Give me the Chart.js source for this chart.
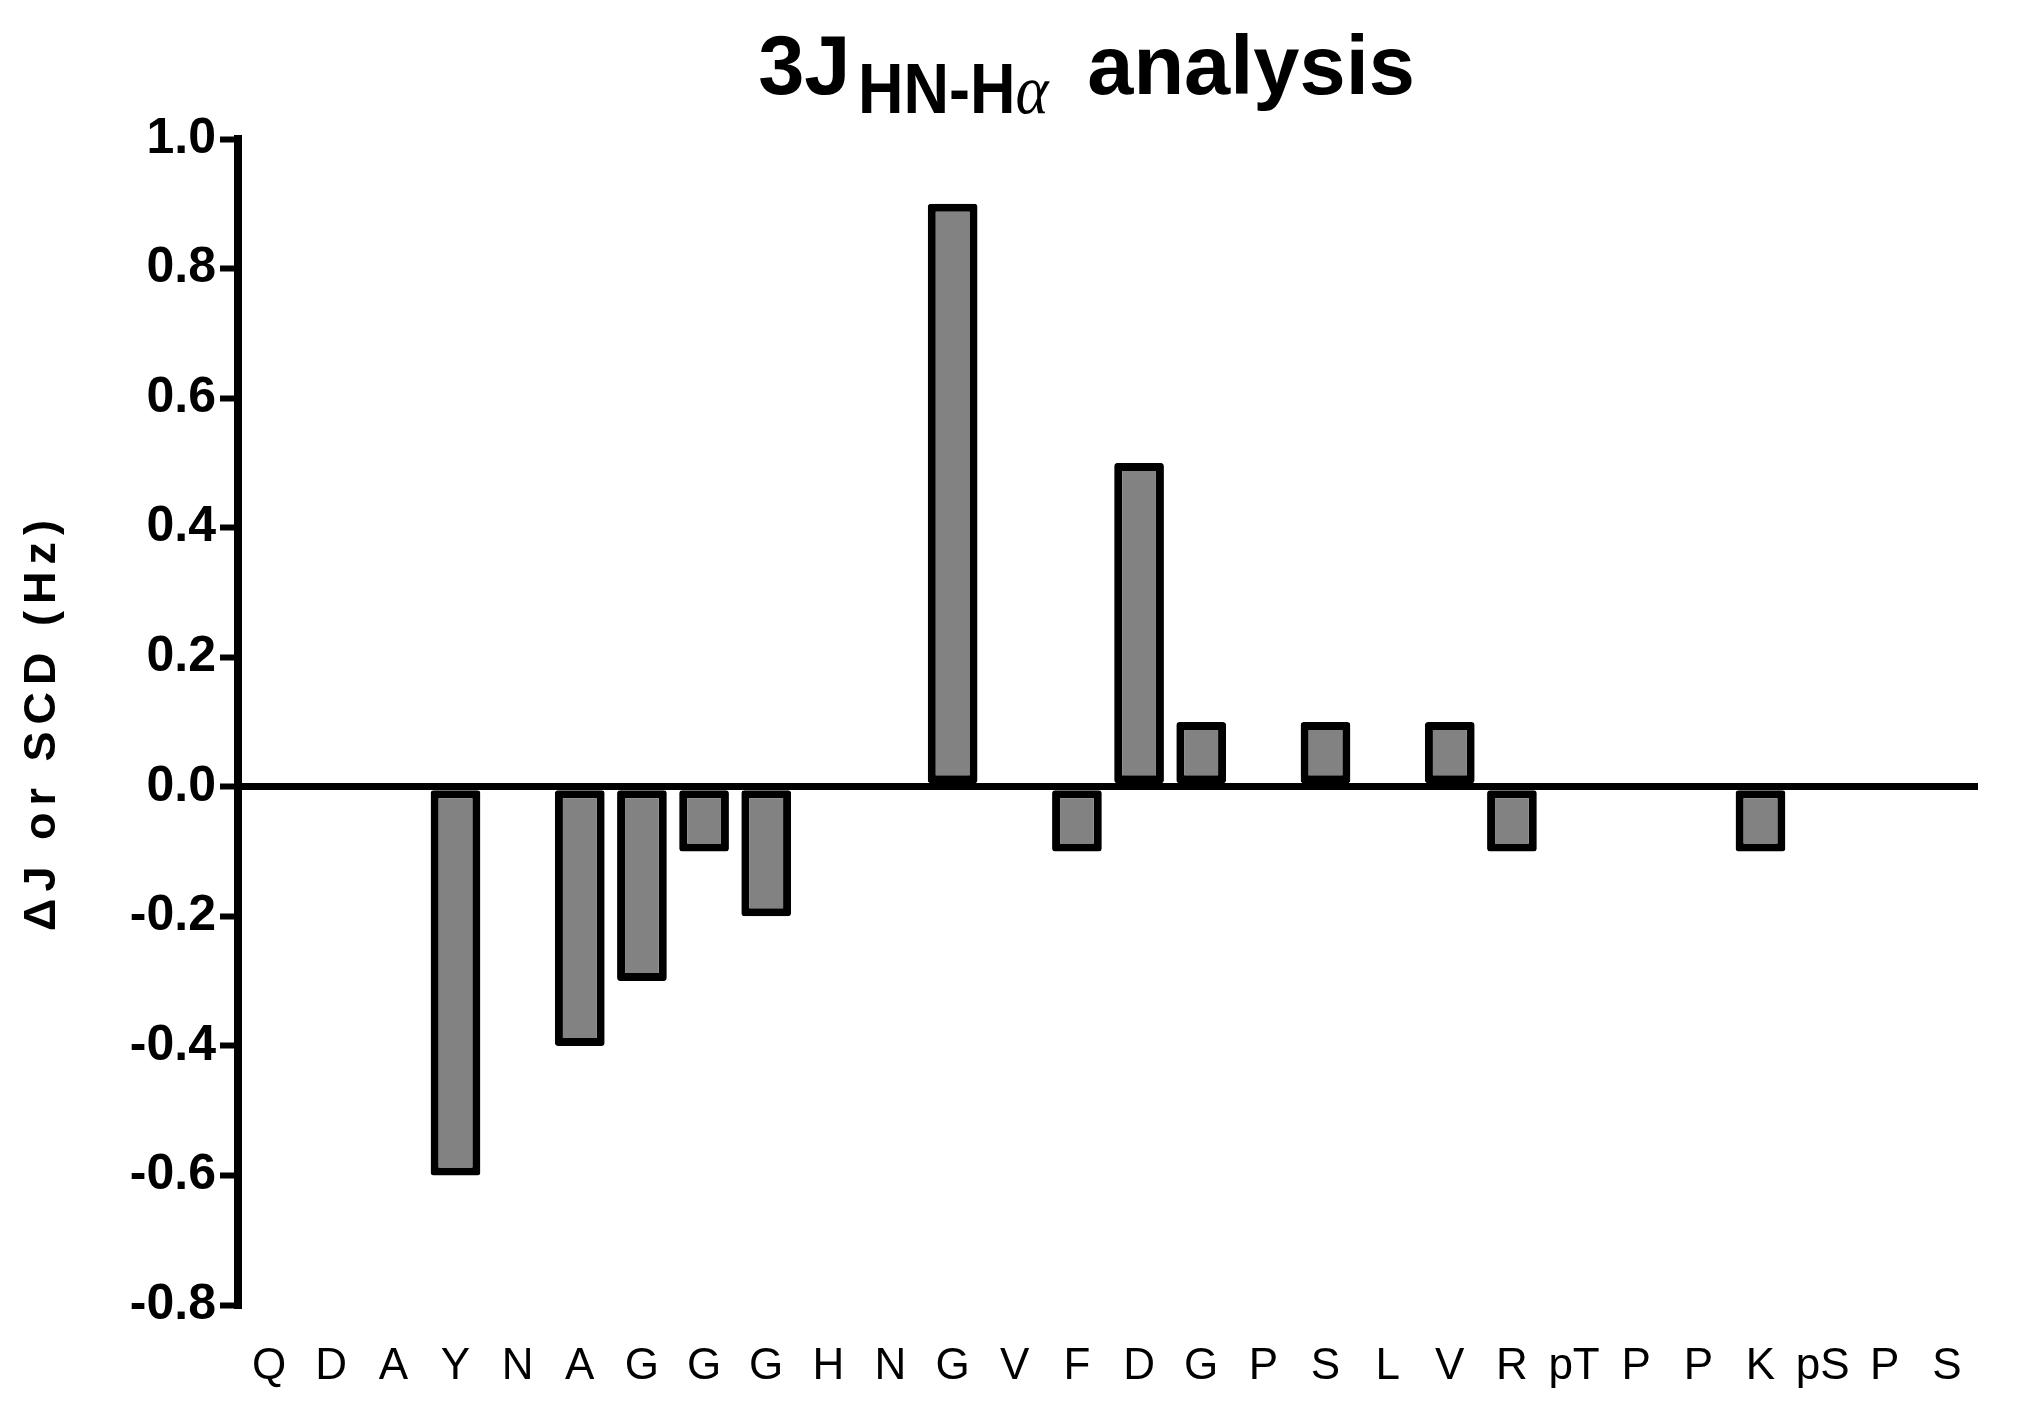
<!DOCTYPE html>
<html>
<head>
<meta charset="utf-8">
<script src="https://cdn.jsdelivr.net/npm/chart.js@4.4.1/dist/chart.umd.min.js"></script>
<style>
    body { margin: 0; background: #fff; }
    #wrap { position: relative; width: 2043px; height: 1409px; }
    #title {
        position: absolute; left: 0; top: 24px; width: 2043px; box-sizing: border-box;
        padding-left: 130px; text-align: center;
        font-family: "Liberation Sans", Arial, sans-serif; font-weight: bold; font-size: 83px; line-height: 1;
    }
    #title sub {
        display: inline-block; margin-left: 8px; margin-right: -6px;
        font-size: 70px; vertical-align: -19px; line-height: 1;
        transform: scaleX(0.9); transform-origin: left center;
    }
    #title .alpha { font-family: "Liberation Serif", serif; font-style: italic; font-weight: normal; }
</style>
</head>
<body>
<div id="wrap">
    <canvas id="jChart" width="2043" height="1409"></canvas>
    <div id="title">3J<sub>HN-H<span class="alpha">α</span></sub> analysis</div>
</div>
<script>
// residues along the sequence
const residues = ['Q', 'D', 'A', 'Y', 'N', 'A', 'G', 'G', 'G', 'H', 'N', 'G', 'V', 'F',
    'D', 'G', 'P', 'S', 'L', 'V', 'R', 'pT', 'P', 'P', 'K', 'pS', 'P', 'S'];
// delta J per residue (Hz)
const deltaJ = [0, 0, 0, -0.6, 0, -0.4, -0.3, -0.1, -0.2, 0, 0, 0.9, 0, -0.1,
    0.5, 0.1, 0, 0.1, 0, 0.1, -0.1, 0, 0, 0, -0.1, 0, 0, 0];
const yTicks = [-0.8, -0.6, -0.4, -0.2, 0.0, 0.2, 0.4, 0.6, 0.8, 1.0];

const fontFam = '"Liberation Sans", Arial, sans-serif';

// spread out the letters of the y axis title
const spacedTitle = {
    id: 'spacedTitle',
    beforeDraw(chart) {
        const s = chart.scales.y;
        if (s && !s._spaced) {
            const orig = s.drawTitle.bind(s);
            s.drawTitle = function () {
                const c = this.ctx;
                c.save();
                c.letterSpacing = '7px';
                orig();
                c.restore();
            };
            s._spaced = true;
        }
    }
};

function initializeJChart() {
    const ctx = document.getElementById('jChart').getContext('2d');

    const data = {
        labels: residues,
        datasets: [{
            label: '3J HN-Ha',
            data: deltaJ,
            backgroundColor: '#828282',
            borderColor: '#000000',
            borderWidth: 8,
            borderSkipped: false,
            borderRadius: 3,
            barPercentage: 0.8,
            categoryPercentage: 1.0
        }]
    };

    const options = {
        responsive: false,
        animation: false,
        layout: { padding: { left: 16, top: 139, right: 65, bottom: 0 } },
        scales: {
            x: {
                grid: { display: false, drawTicks: false },
                border: { display: false },
                ticks: {
                    color: '#000',
                    font: { family: fontFam, size: 44 },
                    padding: 35,
                    maxRotation: 0,
                    autoSkip: false
                },
                afterFit: (scale) => { scale.height = 104; }
            },
            y: {
                min: -0.8,
                max: 1.0,
                afterBuildTicks: (scale) => { scale.ticks = yTicks.map(v => ({ value: v })); },
                ticks: {
                    color: '#000',
                    font: { family: fontFam, size: 50, weight: 'bold' },
                    padding: 4,
                    callback: (v) => Number(v).toFixed(1)
                },
                grid: {
                    drawOnChartArea: true,
                    color: (c) => (c.tick && Math.abs(c.tick.value) < 1e-9) ? '#000' : 'rgba(0,0,0,0)',
                    lineWidth: 7,
                    tickColor: '#000',
                    tickWidth: 6,
                    tickLength: 18
                },
                border: { display: true, color: '#000', width: 8 },
                title: {
                    display: true,
                    text: 'ΔJ or SCD (Hz)',
                    color: '#000',
                    font: { family: fontFam, size: 45, weight: 'bold' },
                    padding: 0
                },
                afterFit: (scale) => { scale.width = 222; }
            }
        },
        plugins: {
            legend: { display: false },
            tooltip: { enabled: false }
        }
    };

    new Chart(ctx, {
        type: 'bar',
        data: data,
        options: options,
        plugins: [spacedTitle]
    });
}

if (document.readyState === 'loading') {
    document.addEventListener('DOMContentLoaded', initializeJChart);
} else {
    initializeJChart();
}
</script>
</body>
</html>
